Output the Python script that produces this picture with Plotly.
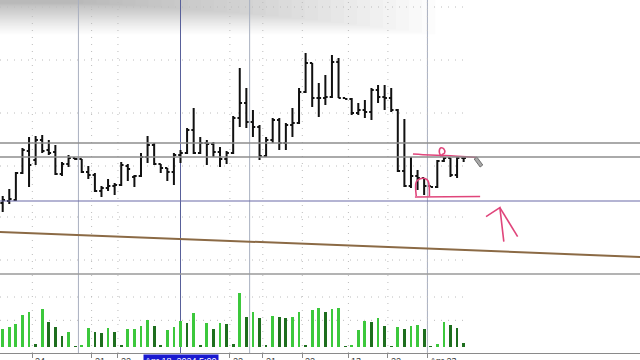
import plotly.graph_objects as go

# ---------------- data ----------------
bar_index = list(range(71))
open_ = [2318.5, 2319.5, 2320, 2333.5, 2344.5, 2340, 2350, 2345, 2344, 2333,
         2338, 2341, 2340.5, 2334, 2332.5, 2324.5, 2326, 2327, 2327.5, 2337,
         2331.5, 2332, 2341.5, 2347.5, 2338, 2336, 2334, 2342.5, 2343.5, 2355,
         2343.5, 2348.5, 2348, 2344, 2340.5, 2343.5, 2361, 2368.5, 2359, 2356.5,
         2342, 2350, 2360, 2348.5, 2357.5, 2358.5, 2374, 2388.5, 2371, 2371,
         2371.5, 2389, 2371, 2370.5, 2363.5, 2365, 2364, 2375, 2371.5, 2371,
         2365, 2334.5, 2327, 2332, 2331, 2327, 2326.5, 2339.5, 2341, 2332.5,
         2341]
high = [2322, 2325.5, 2334, 2346, 2351.5, 2352, 2352.5, 2350, 2347.5, 2339,
        2342.5, 2341, 2340.5, 2337, 2333.5, 2327, 2330.5, 2328.5, 2339, 2338,
        2332.5, 2343.5, 2352, 2348.5, 2338, 2336, 2343.5, 2345, 2356, 2366,
        2351.5, 2350, 2349, 2346.5, 2344.5, 2362, 2386, 2376, 2365, 2357.5,
        2351.5, 2361, 2361, 2358.5, 2366, 2376, 2393.5, 2388.5, 2378.5, 2382.5,
        2392.5, 2391, 2371, 2371, 2368.5, 2370, 2376, 2377.5, 2377.5, 2376,
        2365.5, 2360.5, 2341.5, 2335, 2331, 2327, 2340, 2341.5, 2341, 2342,
        2341.5]
low = [2314, 2318, 2319.5, 2333, 2326.5, 2337.5, 2343.5, 2342.5, 2332.5, 2332,
       2336.5, 2340, 2333.5, 2330.5, 2324, 2321.5, 2324.5, 2322.5, 2327, 2329.5,
       2326.5, 2331.5, 2338.5, 2337.5, 2333.5, 2329.5, 2327.5, 2338.5, 2343, 2343,
       2343, 2337.5, 2341.5, 2336.5, 2338, 2343, 2356.5, 2356, 2351.5, 2340,
       2341.5, 2348.5, 2345, 2345, 2351.5, 2358, 2373.5, 2366.5, 2361.5, 2367.5,
       2371, 2371, 2370.5, 2362.5, 2362.5, 2361, 2360, 2368.5, 2365, 2364,
       2334, 2326.5, 2326, 2325, 2322.5, 2326.5, 2326, 2339, 2331.5, 2331,
       2339]
close = [2320, 2320.5, 2333.5, 2345, 2337.5, 2350, 2344.5, 2343.5, 2333, 2338,
         2341, 2340.5, 2334, 2332.5, 2324.5, 2326, 2327, 2327.5, 2337.5, 2335.5,
         2332, 2341.5, 2347.5, 2338, 2336, 2334, 2342.5, 2343.5, 2355, 2343.5,
         2348.5, 2348, 2344, 2340.5, 2343.5, 2361, 2368.5, 2359, 2356.5, 2342,
         2350, 2360, 2348.5, 2357.5, 2358.5, 2374, 2388.5, 2371, 2371, 2371.5,
         2389, 2371, 2370.5, 2363.5, 2365, 2364, 2375, 2371.5, 2371, 2365,
         2334.5, 2327, 2332, 2331, 2327, 2326.5, 2339.5, 2341, 2332.5, 2341,
         2341]
volume = [53, 61, 68, 97, 104, 8, 113, 76, 59, 34,
          46, 3, 5, 56, 44, 43, 56, 44, 6, 53,
          54, 63, 82, 64, 4, 50, 61, 79, 71, 101,
          6, 71, 53, 72, 68, 8, 161, 89, 105, 86,
          5, 94, 90, 88, 89, 104, 6, 112, 118, 106,
          113, 116, 2, 4, 51, 78, 75, 87, 64, 3,
          61, 54, 63, 65, 53, 2, 8, 76, 65, 58,
          13]

tick_bars = [4.5, 13.5, 17.5, 34.5, 39.5, 45.5, 52.5, 58.5, 64.5]
tick_text = ["24", "21", "22", "22", "21", "22", "13", "22", "Apr 23"]

level_gray = [2348.5, 2341.5]
level_blue = 2319.5
trend_bars = [-1, 97]
trend_prices = [2304.1, 2291.5]
day_separators = [11.5, 37.5, 64.5]
crosshair_bar = 27
crosshair_label = "Apr 18, 2024 5:00"
grid_prices = [2416.5, 2390, 2363.5, 2337, 2311.5, 2290]
grid_volumes = [150, 80]

# hand drawn marks (bar index, price)
pink_top_x = [62.3, 64.9, 67.2, 72.0]
pink_top_y = [2343.0, 2342.5, 2342.25, 2341.25]
pink_loop_x = [66.6, 66.3, 66.5, 67.0, 67.1, 66.7, 66.9]
pink_loop_y = [2341.5, 2344.0, 2346.0, 2345.5, 2343.5, 2342.5, 2341.5]
pink_box_x = [62.8, 62.8, 63.3, 64.1, 64.6, 64.8, None, 62.6, 72.5]
pink_box_y = [2322.0, 2329.0, 2330.5, 2330.75, 2329.5, 2322.0, None, 2321.5, 2321.75]
arrow_x = [73.4, 75.5, 76.1, None, 75.5, 78.2]
arrow_y = [2311.7, 2316.2, 2299.2, None, 2316.2, 2301.7]
pencil_x = [71.6, 72.0, 72.9, 72.5, 71.6]
pencil_y = [2340.5, 2341.5, 2337.5, 2336.5, 2340.5]

# ---------------- figure ----------------
X_RANGE = [-0.41, 96.78]
Y_RANGE = [2283, 2420]
V_RANGE = [-18, 219]
V_DOMAIN = [7 / 360, 86 / 360]
P_DOMAIN = [86 / 360, 1]

BRIGHT = "#3cc83c"
DARK = "#1e6e1e"
PINK = "#e0457b"
GRID = "#bcbcbc"
GRID_DASH = "1px,6px"

vol_colors = [BRIGHT if i == 0 or volume[i] > volume[i - 1] else DARK
              for i in range(len(volume))]

fig = go.Figure()

fig.add_trace(go.Ohlc(
    x=bar_index, open=open_, high=high, low=low, close=close,
    increasing=dict(line=dict(color="#111111", width=2)),
    decreasing=dict(line=dict(color="#111111", width=2)),
    tickwidth=0.35, xaxis="x", yaxis="y", hoverinfo="skip", showlegend=False))

fig.add_trace(go.Bar(
    x=bar_index, y=volume, marker=dict(color=vol_colors, line=dict(width=0)),
    width=0.42, xaxis="x", yaxis="y2", hoverinfo="skip", showlegend=False))

fig.add_trace(go.Scatter(x=trend_bars, y=trend_prices, mode="lines",
                         line=dict(color="#8b6a45", width=2),
                         yaxis="y", hoverinfo="skip", showlegend=False))

for xs, ys, shape in [(pink_top_x, pink_top_y, "spline"),
                      (pink_loop_x, pink_loop_y, "spline"),
                      (pink_box_x, pink_box_y, "spline"),
                      (arrow_x, arrow_y, "linear")]:
    fig.add_trace(go.Scatter(x=xs, y=ys, mode="lines",
                             line=dict(color=PINK, width=1.6, shape=shape),
                             connectgaps=False, yaxis="y",
                             hoverinfo="skip", showlegend=False))

fig.add_trace(go.Scatter(x=pencil_x, y=pencil_y, mode="lines", fill="toself",
                         fillcolor="#a8a8a8", line=dict(color="#707070", width=1),
                         yaxis="y", hoverinfo="skip", showlegend=False))

shapes = []
# top-left soft haze (many faint layers for a smooth fade)
N_HAZE = 28
for k in range(N_HAZE):
    f = k / (N_HAZE - 1)
    shapes.append(dict(type="rect", xref="paper", yref="paper",
                       x0=0, x1=0.68 - 0.55 * f, y0=0.995 - 0.085 * (1 - f) ** 1.5 - 0.005,
                       y1=1, fillcolor="rgba(110,110,110,0.022)", line=dict(width=0),
                       layer="below"))
for lv in level_gray:
    shapes.append(dict(type="line", xref="paper", yref="y", x0=0, x1=1,
                       y0=lv, y1=lv, line=dict(color="#8e8e8e", width=1.6)))
shapes.append(dict(type="line", xref="paper", yref="y", x0=0, x1=1,
                   y0=level_blue, y1=level_blue,
                   line=dict(color="#6a6aa8", width=1.2)))
shapes.append(dict(type="line", xref="paper", yref="paper", x0=0, x1=1,
                   y0=P_DOMAIN[0], y1=P_DOMAIN[0],
                   line=dict(color="#9a9a9a", width=1.5)))
for sx in day_separators:
    shapes.append(dict(type="line", xref="x", yref="paper", x0=sx, x1=sx,
                       y0=V_DOMAIN[0], y1=1, line=dict(color="#a9b0c0", width=1),
                       layer="below"))
shapes.append(dict(type="line", xref="x", yref="paper", x0=crosshair_bar,
                   x1=crosshair_bar, y0=V_DOMAIN[0], y1=1,
                   line=dict(color="#58609a", width=1), layer="below"))
for gp in grid_prices:
    shapes.append(dict(type="line", xref="x", yref="y", x0=X_RANGE[0], x1=70,
                       y0=gp, y1=gp, line=dict(color=GRID, width=1, dash=GRID_DASH),
                       layer="below"))
for gv in grid_volumes:
    shapes.append(dict(type="line", xref="x", yref="y2", x0=X_RANGE[0], x1=70,
                       y0=gv, y1=gv, line=dict(color=GRID, width=1, dash=GRID_DASH),
                       layer="below"))
for tb in tick_bars:
    shapes.append(dict(type="line", xref="x", yref="paper", x0=tb, x1=tb,
                       y0=V_DOMAIN[0], y1=1,
                       line=dict(color=GRID, width=1, dash=GRID_DASH),
                       layer="below"))

annotations = []
for tb, tt in zip(tick_bars, tick_text):
    annotations.append(dict(x=tb, xref="x", y=V_DOMAIN[0], yref="paper",
                            text=tt, showarrow=False, xanchor="left",
                            yanchor="top", xshift=1, yshift=-1,
                            font=dict(family="Liberation Sans, Arial", size=9,
                                      color="#333333")))
annotations.append(dict(x=crosshair_bar, xref="x", y=V_DOMAIN[0], yref="paper",
                        text=crosshair_label, showarrow=False, xanchor="center",
                        yanchor="top", yshift=-1, bgcolor="#1a1ad0",
                        borderpad=1,
                        font=dict(family="Liberation Sans, Arial", size=9,
                                  color="#ffffff")))

fig.update_layout(
    width=640, height=360,
    margin=dict(l=0, r=0, t=0, b=0),
    paper_bgcolor="#ffffff", plot_bgcolor="#ffffff",
    showlegend=False, bargap=0,
    shapes=shapes, annotations=annotations,
    xaxis=dict(domain=[0, 1], range=X_RANGE, anchor="y2",
               rangeslider=dict(visible=False), showgrid=False, zeroline=False,
               showline=True, linecolor="#8a8a8a", linewidth=1,
               ticks="outside", ticklen=4, tickcolor="#8a8a8a",
               tickvals=tick_bars, showticklabels=False, fixedrange=True),
    yaxis=dict(domain=P_DOMAIN, range=Y_RANGE, showgrid=False, zeroline=False,
               showticklabels=False, showline=False),
    yaxis2=dict(domain=V_DOMAIN, range=V_RANGE, showgrid=False, zeroline=False,
                showticklabels=False, showline=False),
)

fig.write_html("out.html")
